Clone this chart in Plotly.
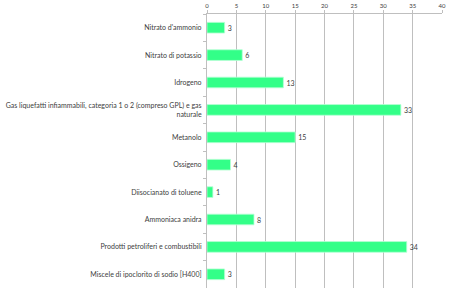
import plotly.graph_objects as go

categories = [
    "Nitrato d'ammonio",
    "Nitrato di potassio",
    "Idrogeno",
    "Gas liquefatti infiammabili, categoria 1 o 2 (compreso GPL) e gas<br>naturale",
    "Metanolo",
    "Ossigeno",
    "Diisocianato di toluene",
    "Ammoniaca anidra",
    "Prodotti petroliferi e combustibili",
    "Miscele di ipoclorito di sodio [H400]",
]
values = [3, 6, 13, 33, 15, 4, 1, 8, 34, 3]
x_ticks = [0, 5, 10, 15, 20, 25, 30, 35, 40]

FONT = "Lato"

fig = go.Figure(go.Bar(
    y=categories,
    x=values,
    orientation="h",
    marker=dict(color="#33FF88", line=dict(color="#B8FFD6", width=0.8)),
    text=[str(v) for v in values],
    textposition="outside",
    textfont=dict(size=7, color="#404040", family=FONT),
    cliponaxis=False,
))

fig.update_layout(
    width=450, height=298,
    margin=dict(l=207, r=8, t=14, b=10),
    paper_bgcolor="white", plot_bgcolor="white",
    bargap=0.61,
    showlegend=False,
    font=dict(family=FONT, size=7, color="#404040"),
)
fig.update_xaxes(
    side="top", range=[0, 40], tickvals=x_ticks,
    showgrid=True, gridcolor="#BFBFBF", gridwidth=1,
    showline=True, linecolor="#BFBFBF", linewidth=1,
    ticks="outside", ticklen=3, tickcolor="#BFBFBF",
    tickfont=dict(size=6, color="#404040", family=FONT), zeroline=False,
    automargin=False,
)
fig.update_yaxes(
    autorange="reversed", showline=True, linecolor="#BFBFBF", linewidth=1,
    ticks="outside", tickson="boundaries", ticklen=3, tickcolor="#BFBFBF",
    tickfont=dict(size=7, color="#404040", family=FONT), showgrid=False,
    automargin=False, ticklabelstandoff=3,
)

fig.write_html("out.html")
